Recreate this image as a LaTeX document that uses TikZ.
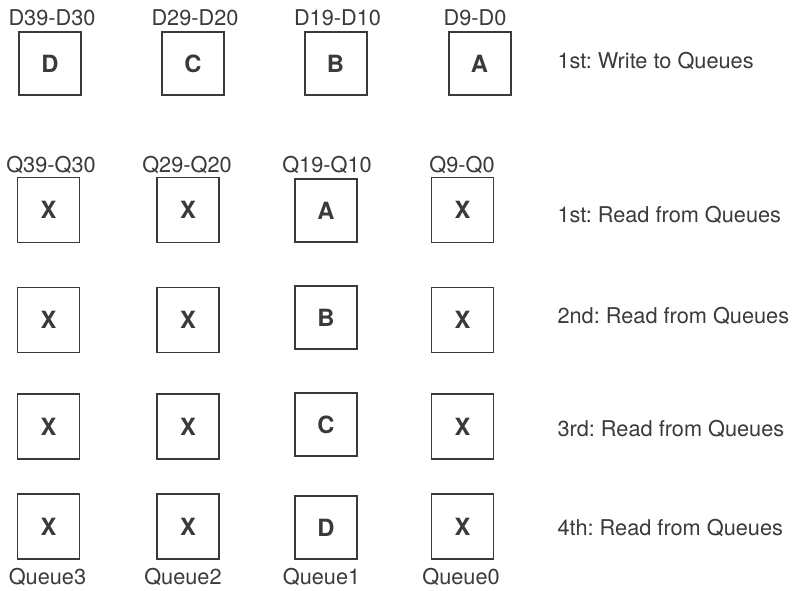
\documentclass[tikz,border=0pt]{standalone}
\usepackage{fontspec}
\setmainfont{TeX Gyre Heros}
\frenchspacing
\definecolor{inkgray}{RGB}{58,58,54}
\newcommand\qfont{\fontsize{16.3}{19.5}\selectfont}
\newcommand\qbigfont{\fontsize{17.8}{21}\selectfont}
\tikzset{every picture/.style={line width=0.75pt}}
\tikzset{
  fullbox/.style={draw=inkgray, line width=1.5pt, minimum width=46.5pt, minimum height=47.25pt, inner sep=0pt, font=\qbigfont\bfseries, text=inkgray},
  emptybox/.style={draw=inkgray, line width=1pt, minimum width=46.5pt, minimum height=48.75pt, inner sep=0pt, font=\qbigfont\bfseries, text=inkgray},
  tag/.style={anchor=base, inner sep=0pt, font=\qfont, text=inkgray},
  steptext/.style={anchor=base west, inner sep=0pt, font=\qfont, text=inkgray}
}

\begin{document}
\begin{tikzpicture}[x=0.75pt,y=0.75pt,yscale=-1]
\useasboundingbox (0,0) rectangle (795,591);
% write to queues
\node [fullbox] (d3) at (50,63.5) {D};
\node [fullbox] (d2) at (193,63.5) {C};
\node [fullbox] (d1) at (335.5,63.5) {B};
\node [fullbox] (d0) at (479.5,63.5) {A};
\node [tag] (d3l) at (52,25.5) {D39-D30};
\node [tag] (d2l) at (195,25.5) {D29-D20};
\node [tag] (d1l) at (337.5,25.5) {D19-D10};
\node [tag] (d0l) at (475,25.5) {D9-D0};
\node [steptext] (w1) at (557,69) {1st: Write to Queues};
% read from queues
\foreach \r/\y in {1/210,2/320,3/426.5,4/526.5} {
  \node [emptybox] (q3r\r) at (48.5,\y) {X};
  \node [emptybox] (q2r\r) at (188,\y) {X};
  \node [emptybox] (q0r\r) at (462.5,\y) {X};
}
\node [fullbox] (q1r1) at (326,210.5) {A};
\node [fullbox] (q1r2) at (326,317.5) {B};
\node [fullbox] (q1r3) at (326,424.5) {C};
\node [fullbox] (q1r4) at (326,527.5) {D};
\node [tag] (q3l) at (51,172.5) {Q39-Q30};
\node [tag] (q2l) at (187,172.5) {Q29-Q20};
\node [tag] (q1l) at (327,172.5) {Q19-Q10};
\node [tag] (q0l) at (462,172.5) {Q9-Q0};
\node [tag] (n3) at (47.5,584) {Queue3};
\node [tag] (n2) at (183,584) {Queue2};
\node [tag] (n1) at (321.5,584) {Queue1};
\node [tag] (n0) at (461,584) {Queue0};
\node [steptext] (r1) at (557,223) {1st: Read from Queues};
\node [steptext] (r2) at (557,324) {2nd: Read from Queues};
\node [steptext] (r3) at (557,436.5) {3rd: Read from Queues};
\node [steptext] (r4) at (557,535) {4th: Read from Queues};
\end{tikzpicture}
\end{document}
